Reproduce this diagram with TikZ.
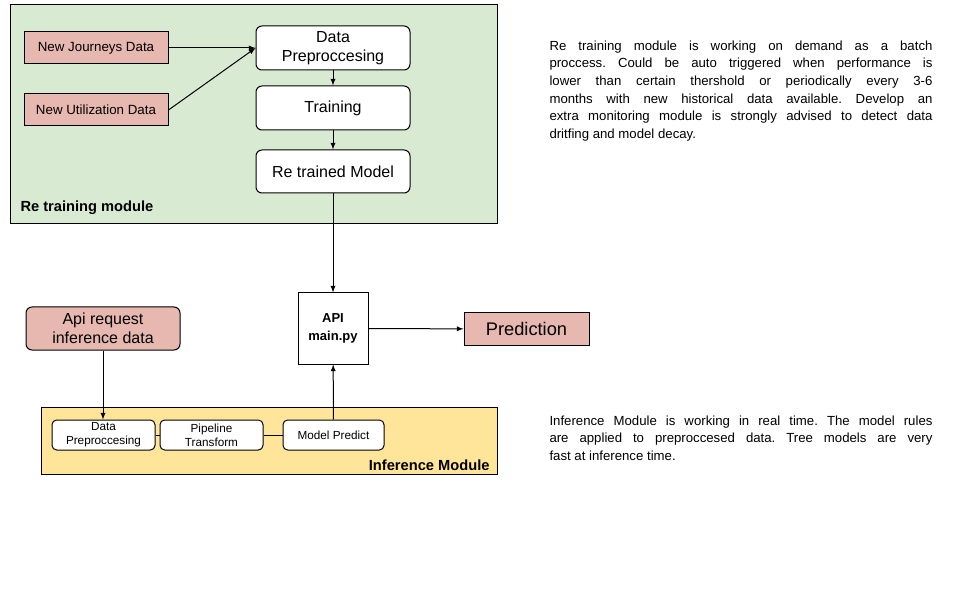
\documentclass[tikz,border=0pt]{standalone}
\usepackage{fontspec}
\setmainfont{Liberation Sans}
\usetikzlibrary{calc}
\frenchspacing

\definecolor{retraingreen}{HTML}{D9EAD3}
\definecolor{infyellow}{HTML}{FFE599}
\definecolor{datapink}{HTML}{E6B8AF}

\begin{document}
\begin{tikzpicture}[x=0.75pt, y=-0.75pt, >=latex, line width=0.75pt,
    datanode/.style={draw, fill=datapink, inner sep=0pt, align=center},
    procnode/.style={draw, fill=white, rounded corners=4.5pt, inner sep=0pt, minimum width=115.5pt, align=center, font=\fontsize{12}{14.25}\selectfont},
    smallnode/.style={draw, fill=white, rounded corners=3.5pt, inner sep=0pt, minimum height=22.5pt, align=center, font=\fontsize{8.8}{10.5}\selectfont},
    modlabel/.style={inner sep=0pt, font=\bfseries\fontsize{11}{13}\selectfont},
    note/.style={anchor=north west, inner sep=0pt, text width=287.25pt, align=justify, font=\fontsize{9.9}{13.3}\selectfont}]
    \useasboundingbox (0,0) rectangle (970,609);

    \filldraw[fill=retraingreen] (10,5) rectangle (497,224);
    \filldraw[fill=infyellow] (41,407) rectangle (497,474);

    \node[datanode, minimum width=108pt, minimum height=24pt, font=\fontsize{10}{12}\selectfont] (njd) at (96,48) {New Journeys Data};
    \node[datanode, minimum width=108pt, minimum height=24pt, font=\fontsize{10}{12}\selectfont] (nud) at (96,110) {New Utilization Data};
    \node[procnode, minimum height=33pt] (prep) at (333,48) {Data\\Preproccesing};
    \node[procnode, minimum height=33pt] (train) at (333,108) {Training};
    \node[procnode, minimum height=32.25pt] (model) at (333,171.5) {Re trained Model};
    \node[modlabel, anchor=west] (retrainlbl) at (20,208) {Re training module};

    \node[draw, fill=white, inner sep=0pt, minimum width=52.5pt, minimum height=53.25pt, align=center, font=\bfseries\fontsize{9.75}{13.5}\selectfont] (api) at (333,328.5) {API\\main.py};
    \node[datanode, minimum width=93.75pt, minimum height=24pt, font=\fontsize{13.7}{16}\selectfont] (pred) at (526.5,329) {Prediction};
    \node[procnode, fill=datapink, minimum height=32.25pt] (req) at (103,328.5) {Api request\\inference data};

    \node[smallnode, minimum width=77.25pt] (iprep) at (103.5,435) {Data\\Preproccesing};
    \node[smallnode, minimum width=77.25pt] (pipe) at (211.5,435) {Pipeline\\Transform};
    \node[smallnode, minimum width=75.75pt] (predict) at (333.5,435) {Model Predict};
    \node[modlabel, anchor=east] (inferlbl) at (490,465) {Inference Module};

    \draw[->] (njd.east) -- (prep.west);
    \draw[->] (nud.east) -- (prep.west);
    \draw[->] (prep) -- (train);
    \draw[->] (train) -- (model);
    \draw[->] (model) -- (api);
    \draw[->] (api) -- (pred);
    \draw[->] (req.south) -- (req.south |- iprep.north);
    \draw (iprep) -- (pipe);
    \draw (pipe) -- (predict);
    \draw[->] (predict) -- (api);

    \node[note] (retrainnote) at (549,40) {Re training module is working on demand as a batch\linebreak
        proccess. Could be auto triggered when performance is\linebreak
        lower than certain thershold or periodically every 3-6\linebreak
        months with new historical data available. Develop an\linebreak
        extra monitoring module is strongly advised to detect data\linebreak
        dritfing and model decay.};
    \node[note] (infernote) at (549,415) {Inference Module is working in real time. The model rules\linebreak
        are applied to preproccesed data. Tree models are very\linebreak
        fast at inference time.};
\end{tikzpicture}
\end{document}
